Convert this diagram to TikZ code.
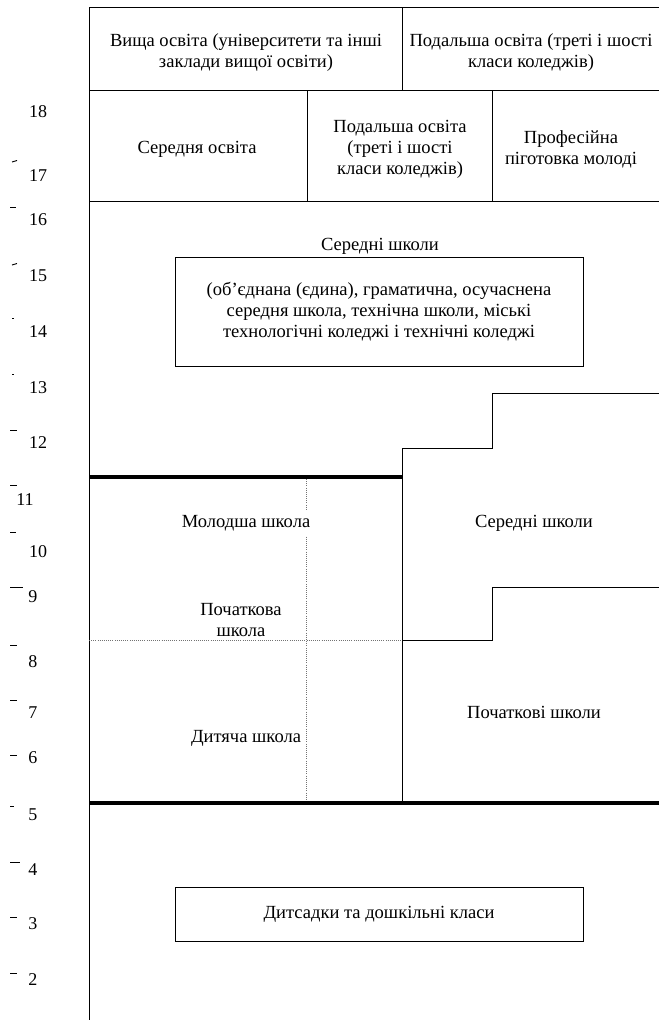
\documentclass[tikz,border=0pt]{standalone}
\usepackage{fontspec}
\setmainfont{Liberation Serif}
\begin{document}
\begin{tikzpicture}[x=0.75pt,y=-0.75pt,
  txt/.style={font=\fontsize{13.9}{15.75}\selectfont, align=center, inner sep=1pt},
  cover/.style={txt, fill=white, inner sep=4pt},
  num/.style={font=\fontsize{13.5}{14}\selectfont, inner sep=0pt},
  plain/.style={line width=0.75pt},
  heavy/.style={line width=2.4pt},
  dotline/.style={densely dotted, line width=0.6pt, black!55},
  tickmark/.style={line width=0.7pt},
  boxed/.style={draw, line width=0.75pt, txt, minimum width=306pt}]
\useasboundingbox (0,0) rectangle (659,1020);
% frame and grid
\draw[plain] (89,1020) -- (89,8) -- (659,8);
\draw[plain] (89,91) -- (659,91);
\draw[plain] (402,8) -- (402,91);
\draw[plain] (89,201) -- (659,201);
\draw[plain] (307,91) -- (307,201);
\draw[plain] (492,91) -- (492,201);
% staircases
\draw[plain] (659,393) -- (492,393) -- (492,448) -- (402,448) -- (402,803);
\draw[plain] (659,587) -- (492,587) -- (492,640) -- (402,640);
% dotted
\draw[dotline] (89,640) -- (402,640);
\draw[dotline] (306,479) -- (306,801);
% heavy lines
\draw[heavy] (89,477) -- (402,477);
\draw[heavy] (89,803) -- (659,803);
% top rows
\node[txt] (vyshcha) at (246,52.5) {Вища освіта (університети та інші\\заклади вищої освіти)};
\node[txt] (podal1) at (531,52.5) {Подальша освіта (треті і шості\\класи коледжів)};
\node[txt] (serosv) at (197,149) {Середня освіта};
\node[txt] (podal2) at (400,149) {Подальша освіта\\(треті і шості\\класи коледжів)};
\node[txt] (prof) at (571,149) {Професійна\\піготовка молоді};
% secondary schools
\node[txt] (sered) at (380,246) {Середні школи};
\node[boxed, minimum height=81.75pt] (seredbox) at (379,311.5) {(об’єднана (єдина), граматична, осучаснена\\середня школа, технічна школи, міські\\технологічні коледжі і технічні коледжі};
% left block
\node[cover] (molod) at (246,523) {Молодша школа};
\node[txt] (poch) at (241,620) {Початкова\\школа};
\node[cover] (dyt) at (246,738) {Дитяча школа};
% right block
\node[txt] (sered2) at (534,523) {Середні школи};
\node[txt] (poch2) at (534,712) {Початкові школи};
% preschool
\node[boxed, minimum height=40.5pt] (dytsad) at (379,914) {Дитсадки та дошкільні класи};
% axis numbers
\node[num] (n18) at (38,112) {18};
\node[num] (n17) at (38,176) {17};
\node[num] (n16) at (38,220) {16};
\node[num] (n15) at (38,276) {15};
\node[num] (n14) at (38,332) {14};
\node[num] (n13) at (38,388) {13};
\node[num] (n12) at (38,443) {12};
\node[num] (n11) at (25,500) {11};
\node[num] (n10) at (38,552) {10};
\node[num] (n9) at (33,597) {9};
\node[num] (n8) at (33,662) {8};
\node[num] (n7) at (33,713) {7};
\node[num] (n6) at (33,758) {6};
\node[num] (n5) at (33,815) {5};
\node[num] (n4) at (33,870) {4};
\node[num] (n3) at (33,924) {3};
\node[num] (n2) at (33,980) {2};
% tick marks
\draw[tickmark] (12,162) -- (17,160.5);
\draw[tickmark] (10,207) -- (16,207);
\draw[tickmark] (12,265) -- (17,263.5);
\draw[tickmark] (12,318) -- (13.5,318);
\draw[tickmark] (12,374) -- (13.5,374);
\draw[tickmark] (10,430) -- (17,430);
\draw[tickmark] (10,485) -- (17,485);
\draw[tickmark] (10,532) -- (16,532);
\draw[tickmark] (10,587) -- (23,587);
\draw[tickmark] (10,645) -- (17,645);
\draw[tickmark] (10,700) -- (17,700);
\draw[tickmark] (10,755) -- (17,755);
\draw[tickmark] (10,806) -- (13.5,806);
\draw[tickmark] (10,862) -- (20,862);
\draw[tickmark] (10,917) -- (17,917);
\draw[tickmark] (10,973) -- (17,973);
\end{tikzpicture}
\end{document}
